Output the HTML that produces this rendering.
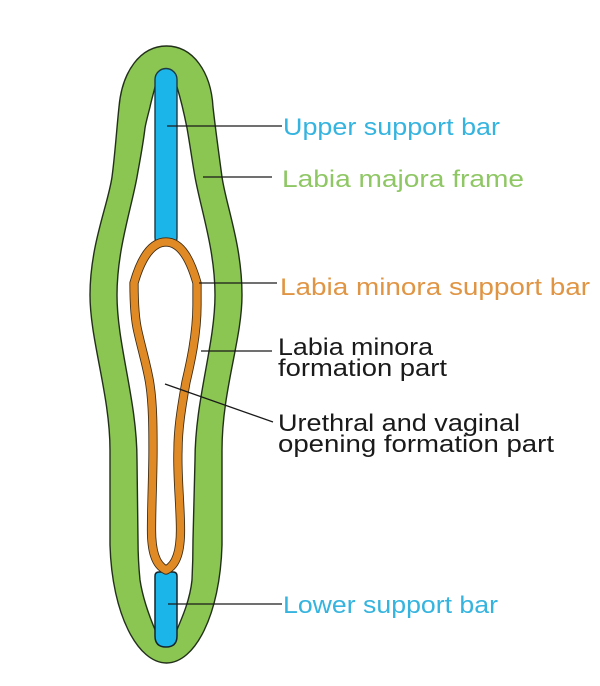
<!DOCTYPE html>
<html><head><meta charset="utf-8"><style>
html,body{margin:0;padding:0;background:#fff}
svg{display:block}
text{font-family:"Liberation Sans",sans-serif;font-size:24px}
</style></head><body>
<svg width="600" height="686" viewBox="0 0 600 686" xmlns="http://www.w3.org/2000/svg">
<path fill-rule="evenodd" fill="#8BC652" stroke="#22301a" stroke-width="1.400" d="M166.500 46C140 46 122 72 119 107C117 125 115 155 112 177C108 205 90 245 90 295C90 340 110 395 110 450L110 545C112 615 138 663 166.500 663C195 663 220 615 222 545L222 450C222 390 242 340 242 295C242 245 226 205 222 177C219 155 215 125 213 107C211 72 193 46 166.500 46Z M155 87C153 95 151 102 150 107C148 115 146 122 145 128C143 145 140 160 137 177C131 210 117 250 117 295C117 345 137 400 137 460L138 540C138 560 139 570 140 580C143 600 150 618 156 632L176 632C182 618 190 600 192 580C192.500 570 193 560 193 540L195 460C195 400 215 345 215 295C215 250 201 210 195 177C192 160 190 145 187 128C185 118 181 100 177 87Z"/>
<rect x="155" y="68.500" width="22" height="180" rx="11" fill="#1CB5EA" stroke="#1d3a44" stroke-width="1.400"/>
<path d="M159 572H173Q177 572 177 576V636Q177 647 166 647Q155 647 155 636V576Q155 572 159 572Z" fill="#1CB5EA" stroke="#14262c" stroke-width="1.500"/>
<path fill="#fff" stroke="#3a2a14" stroke-width="9.200" stroke-linejoin="round" d="M166 242C150 242 140 262 134 283C134 300 135 320 138 332C142 350 148 370 150 385C153 405 153 430 153 450C153 475 151.500 505 151.500 530C151.500 550 155 565 166 570C177 565 180.500 550 180.500 530C180.500 505 177 475 178 450C178 430 181 410 186 382C190 365 197 335 197 305C197 295 197 290 197 283C191 262 182 242 166 242Z"/>
<path fill="none" stroke="#E08A26" stroke-width="7.500" stroke-linejoin="round" d="M166 242C150 242 140 262 134 283C134 300 135 320 138 332C142 350 148 370 150 385C153 405 153 430 153 450C153 475 151.500 505 151.500 530C151.500 550 155 565 166 570C177 565 180.500 550 180.500 530C180.500 505 177 475 178 450C178 430 181 410 186 382C190 365 197 335 197 305C197 295 197 290 197 283C191 262 182 242 166 242Z"/>
<g stroke="#1a1a1a" stroke-width="1.300" fill="none">
<path d="M167 126H282"/>
<path d="M203 177H272"/>
<path d="M199 283H277"/>
<path d="M201 351H272"/>
<path d="M165 384L273 422"/>
<path d="M168 604H282"/>
</g>
<text x="283" y="135" textLength="217" lengthAdjust="spacingAndGlyphs" fill="#35B4DF">Upper support bar</text>
<text x="282" y="187" textLength="242" lengthAdjust="spacingAndGlyphs" fill="#8FC765">Labia majora frame</text>
<text x="280" y="295" textLength="310" lengthAdjust="spacingAndGlyphs" fill="#E09544">Labia minora support bar</text>
<text x="278" y="355" textLength="155" lengthAdjust="spacingAndGlyphs" fill="#1a1a1a">Labia minora</text>
<text x="278" y="376" textLength="169" lengthAdjust="spacingAndGlyphs" fill="#1a1a1a">formation part</text>
<text x="278" y="431" textLength="242" lengthAdjust="spacingAndGlyphs" fill="#1a1a1a">Urethral and vaginal</text>
<text x="278" y="452" textLength="276" lengthAdjust="spacingAndGlyphs" fill="#1a1a1a">opening formation part</text>
<text x="283" y="613" textLength="215" lengthAdjust="spacingAndGlyphs" fill="#35B4DF">Lower support bar</text>
</svg>
</body></html>
